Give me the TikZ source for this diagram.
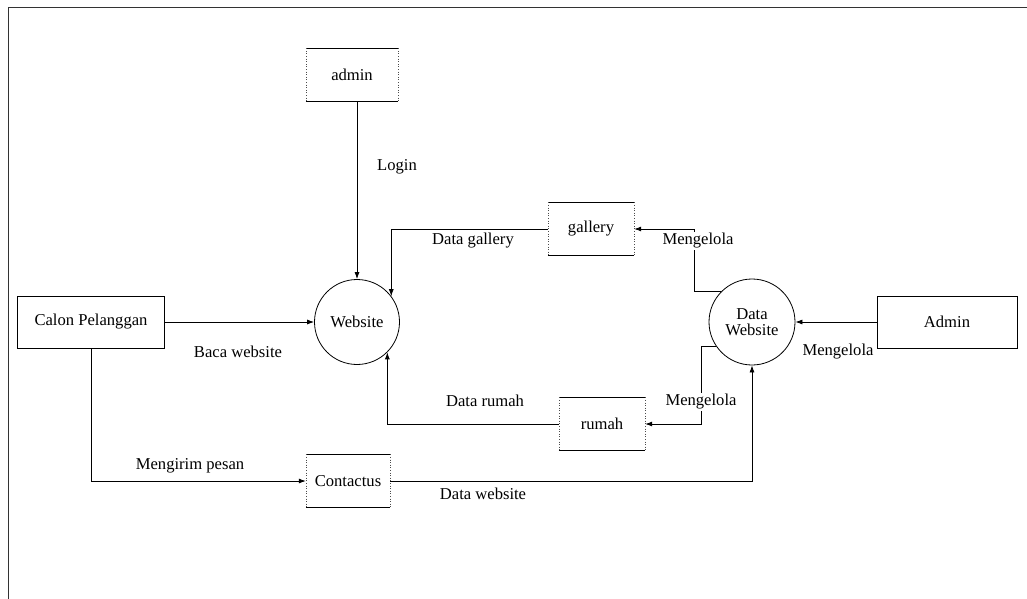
\documentclass[tikz,border=0pt]{standalone}
\usepackage{fontspec}
\setmainfont{Liberation Serif}
\usetikzlibrary{arrows.meta}
\begin{document}
\begin{tikzpicture}[x=1pt,y=-1pt,
  every node/.style={font=\fontsize{16.6}{18}\selectfont},
  line/.style={draw=black,line width=0.8pt},
  flow/.style={line,-{Latex[length=7pt,width=5pt]}},
  entity/.style={draw=black,line width=0.8pt,minimum width=147pt,minimum height=52pt,inner sep=0pt},
  store/.style={minimum width=#1,minimum height=53pt,inner sep=0pt},
  proc/.style={draw=black,line width=0.8pt,circle,inner sep=0pt,align=center},
  lbl/.style={fill=white,inner sep=1pt}]
\useasboundingbox (0,0) rectangle (1027,599);
% page frame
\draw[line width=1pt,draw=black!80] (8,599) -- (8,8) -- (1027,8);

% processes
\node[proc,minimum size=85pt] (web) at (357,322) {Website};
\node[proc,minimum size=86pt] (dw) at (752,322) {Data\\[-2pt]Website};

% external entities
\node[entity] (calon) at (91,322) {Calon Pelanggan};
\node[entity,minimum width=140pt] (adm) at (947,322) {Admin};

% data stores
\node[store=92pt] (admin) at (352,75) {admin};
\node[store=86pt] (gal) at (591,229) {gallery};
\node[store=86pt] (rum) at (602,424) {rumah};
\node[store=84pt] (con) at (348,481) {Contactus};
\foreach \s in {admin,gal,rum,con}{
  \draw[line] (\s.north west) -- (\s.north east);
  \draw[line] (\s.south west) -- (\s.south east);
  \draw[dotted,draw=black!70,line width=0.6pt] (\s.north west) -- (\s.south west);
  \draw[dotted,draw=black!70,line width=0.6pt] (\s.north east) -- (\s.south east);
}

% flows
\draw[flow] (admin.south -| web.north) -- (web.north);
\draw[flow] (calon.east) -- (web.west);
\draw[flow] (calon.south) |- (con.west);
\draw[flow] (con.east) -| (dw.south);
\draw[flow] (adm.west) -- (dw.east);
\draw[flow] (gal.west) -| (web.37);
\draw[flow] (rum.west) -| (web.-45);
\draw[flow] (dw.135) -- ++(-27,0) |- (gal.east);
\draw[flow] (dw.215) -- ++(-15,0) |- (rum.east);

% flow labels (opaque, so they sit over the lines)
\node[lbl] (l1) at (397,167) {Login};
\node[lbl] (l2) at (473,241) {Data gallery};
\node[lbl] (l3) at (698,241) {Mengelola};
\node[lbl] (l4) at (238,352) {Baca website};
\node[lbl] (l5) at (838,352) {Mengelola};
\node[lbl] (l6) at (485,401) {Data rumah};
\node[lbl] (l7) at (701,402) {Mengelola};
\node[lbl] (l8) at (190,466) {Mengirim pesan};
\node[lbl] (l9) at (483,494) {Data website};
\end{tikzpicture}
\end{document}
